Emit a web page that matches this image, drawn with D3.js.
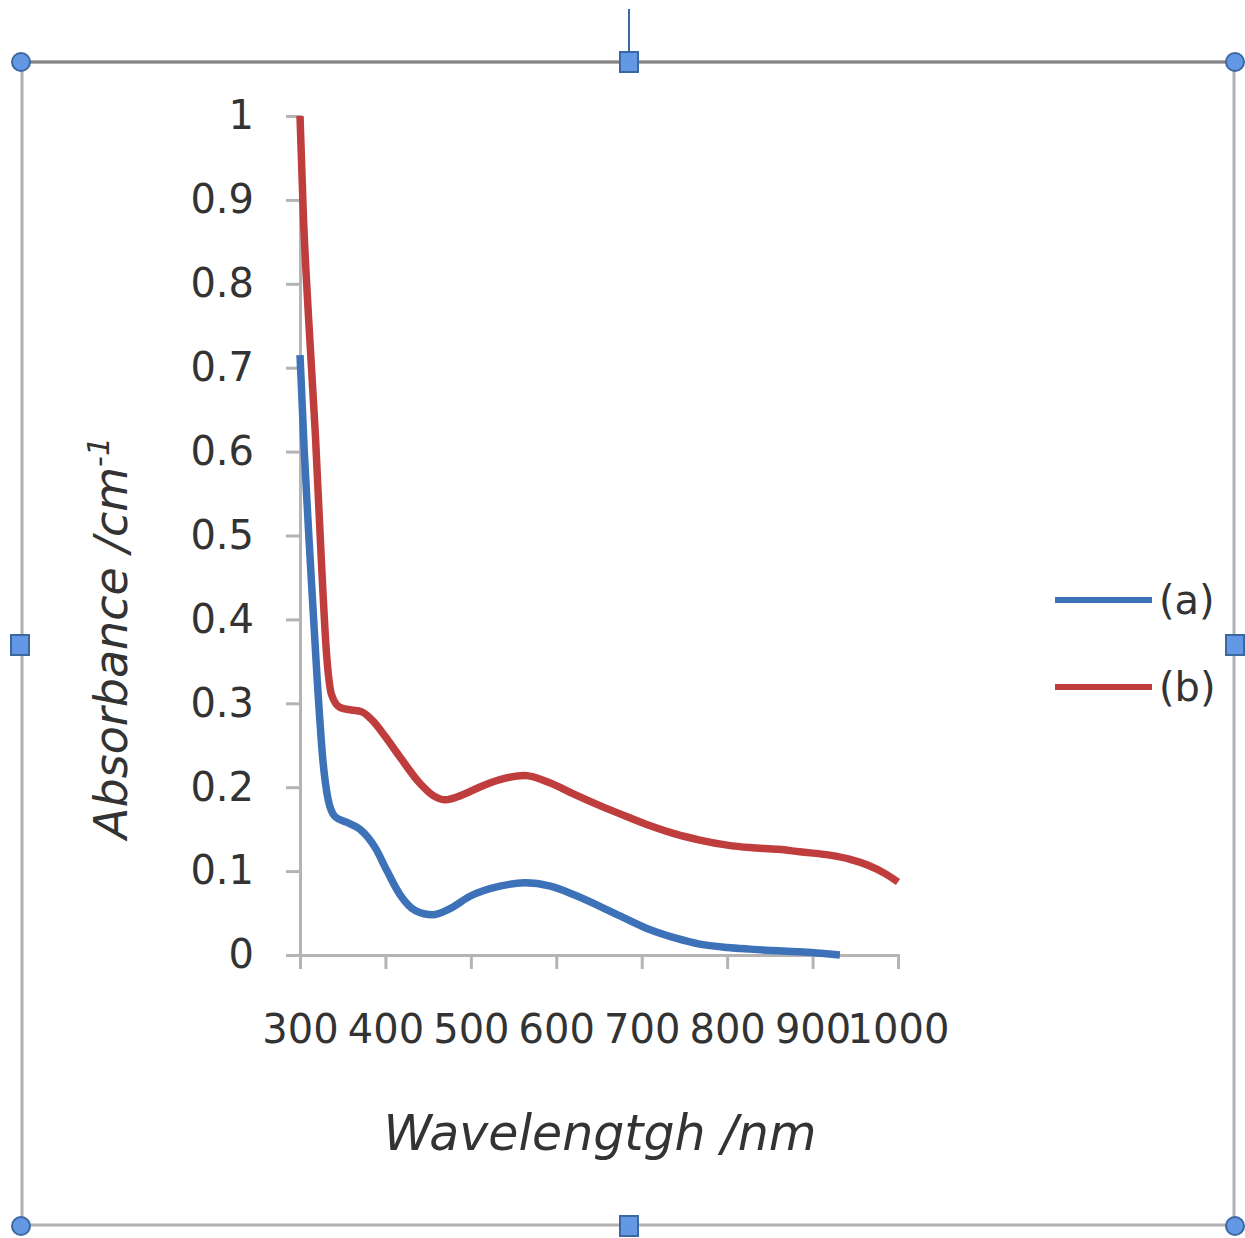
<!DOCTYPE html>
<html>
<head>
<meta charset="utf-8">
<script src="https://cdn.jsdelivr.net/npm/d3@7"></script>
<style>
  body { margin: 0; background: #fff; }
  text { font-family: "DejaVu Sans", sans-serif; fill: #333; }
</style>
</head>
<body>
<div id="chart"></div>
<script>
// wavelength (nm) and absorbance values
var wavelengthA = [300, 305, 312, 320, 327, 333, 341, 355, 370, 388, 402, 417, 435, 455, 475, 499, 534, 563, 593, 620, 651, 680, 710, 740, 768, 800, 827, 860, 885, 910, 932];
var absorbanceA = [0.715, 0.6, 0.47, 0.33, 0.23, 0.185, 0.165, 0.158, 0.15, 0.128, 0.1, 0.072, 0.053, 0.048, 0.055, 0.07, 0.082, 0.086, 0.082, 0.072, 0.058, 0.044, 0.03, 0.02, 0.013, 0.009, 0.007, 0.005, 0.004, 0.002, 0.0];

var wavelengthB = [300, 304, 310, 318, 325, 331, 337, 347, 360, 372, 388, 400, 417, 440, 456, 470, 488, 510, 534, 563, 593, 620, 651, 680, 710, 740, 768, 800, 827, 860, 885, 920, 944, 965, 985, 1000];
var absorbanceB = [1.0, 0.88, 0.76, 0.62, 0.47, 0.36, 0.31, 0.295, 0.292, 0.29, 0.276, 0.26, 0.236, 0.205, 0.19, 0.185, 0.19, 0.2, 0.209, 0.214, 0.205, 0.192, 0.178, 0.166, 0.154, 0.144, 0.137, 0.131, 0.128, 0.126, 0.123, 0.119, 0.114, 0.107, 0.097, 0.087];

var seriesNames = ["(a)", "(b)"];
var seriesColors = ["#3d72b8", "#bf3d3d"];

var xTicks = [300, 400, 500, 600, 700, 800, 900, 1000];
var yTicks = [0, 0.1, 0.2, 0.3, 0.4, 0.5, 0.6, 0.7, 0.8, 0.9, 1];

var width = 1245, height = 1238;

var svg = d3.select("#chart").append("svg")
  .attr("width", width)
  .attr("height", height);

// frame of the chart object (selected, as in the screenshot)
svg.append("rect")
  .attr("x", 22).attr("y", 62)
  .attr("width", 1212).attr("height", 1163)
  .attr("fill", "none")
  .attr("stroke", "#b0b0b0")
  .attr("stroke-width", 3);
svg.append("line")
  .attr("x1", 22).attr("x2", 1234).attr("y1", 62).attr("y2", 62)
  .attr("stroke", "#858585").attr("stroke-width", 3);

// scales
var x = d3.scaleLinear().domain([300, 1000]).range([300, 898]);
var y = d3.scaleLinear().domain([0, 1]).range([955, 116]);

// y axis
var yAxis = d3.axisLeft(y)
  .tickValues(yTicks)
  .tickSize(14)
  .tickPadding(32)
  .tickFormat(function(d) { return d3.format("~g")(d); });

var gy = svg.append("g")
  .attr("transform", "translate(300,0)")
  .call(yAxis);
gy.select(".domain").attr("stroke", "#b4b4b4").attr("stroke-width", 3);
gy.selectAll(".tick line").attr("stroke", "#b4b4b4").attr("stroke-width", 3);
gy.selectAll(".tick text")
  .attr("font-size", 40)
  .attr("fill", "#3a3a3a")
  .style("font-family", "'DejaVu Sans', sans-serif");

// x axis
var xAxis = d3.axisBottom(x)
  .tickValues(xTicks)
  .tickSize(14)
  .tickPadding(46)
  .tickFormat(d3.format("d"));

var gx = svg.append("g")
  .attr("transform", "translate(0,955)")
  .call(xAxis);
gx.select(".domain").attr("stroke", "#b4b4b4").attr("stroke-width", 3);
gx.selectAll(".tick line").attr("stroke", "#b4b4b4").attr("stroke-width", 3);
gx.selectAll(".tick text")
  .attr("font-size", 40)
  .attr("fill", "#3a3a3a")
  .style("font-family", "'DejaVu Sans', sans-serif");

// axis titles
svg.append("text")
  .attr("x", 600).attr("y", 1150)
  .attr("text-anchor", "middle")
  .attr("font-size", 49)
  .attr("font-style", "italic")
  .attr("fill", "#111")
  .text("Wavelengtgh /nm");

var yTitle = svg.append("text")
  .attr("transform", "translate(127,638) rotate(-90)")
  .attr("text-anchor", "middle")
  .attr("font-size", 46)
  .attr("font-style", "italic")
  .attr("fill", "#111");
yTitle.append("tspan").text("Absorbance /cm");
yTitle.append("tspan").attr("dy", -18).attr("font-size", 30).text("-1");

// lines
var line = d3.line()
  .x(function(d) { return x(d[0]); })
  .y(function(d) { return y(d[1]); })
  .curve(d3.curveMonotoneX);

var seriesData = [
  d3.zip(wavelengthA, absorbanceA),
  d3.zip(wavelengthB, absorbanceB)
];

svg.selectAll(".series")
  .data(seriesData)
  .enter()
  .append("path")
  .attr("class", "series")
  .attr("fill", "none")
  .attr("stroke", function(d, i) { return seriesColors[i]; })
  .attr("stroke-width", 7.5)
  .attr("stroke-linejoin", "round")
  .attr("d", line);

// legend
var legend = svg.selectAll(".legend")
  .data(seriesNames)
  .enter()
  .append("g")
  .attr("class", "legend")
  .attr("transform", function(d, i) { return "translate(1055," + (600 + i * 87) + ")"; });

legend.append("line")
  .attr("x1", 0).attr("x2", 97)
  .attr("stroke", function(d, i) { return seriesColors[i]; })
  .attr("stroke-width", 6);

legend.append("text")
  .attr("x", 104)
  .attr("dy", "0.35em")
  .attr("font-size", 40)
  .attr("fill", "#3a3a3a")
  .text(function(d) { return d; });

// selection handles
var handleStroke = "#3b68a0", handleFill = "#6399e4";
svg.append("line")
  .attr("x1", 629).attr("x2", 629).attr("y1", 9).attr("y2", 55)
  .attr("stroke", handleStroke).attr("stroke-width", 2);

var corners = [[21, 62], [1235, 62], [21, 1226], [1235, 1226]];
svg.selectAll(".corner")
  .data(corners)
  .enter()
  .append("circle")
  .attr("cx", function(d) { return d[0]; })
  .attr("cy", function(d) { return d[1]; })
  .attr("r", 9)
  .attr("fill", handleFill)
  .attr("stroke", handleStroke)
  .attr("stroke-width", 2);

var sides = [[629, 62], [629, 1226], [20, 645], [1235, 645]];
svg.selectAll(".side")
  .data(sides)
  .enter()
  .append("rect")
  .attr("x", function(d) { return d[0] - 9; })
  .attr("y", function(d) { return d[1] - 10; })
  .attr("width", 18)
  .attr("height", 20)
  .attr("fill", handleFill)
  .attr("stroke", handleStroke)
  .attr("stroke-width", 2);
</script>
</body>
</html>
